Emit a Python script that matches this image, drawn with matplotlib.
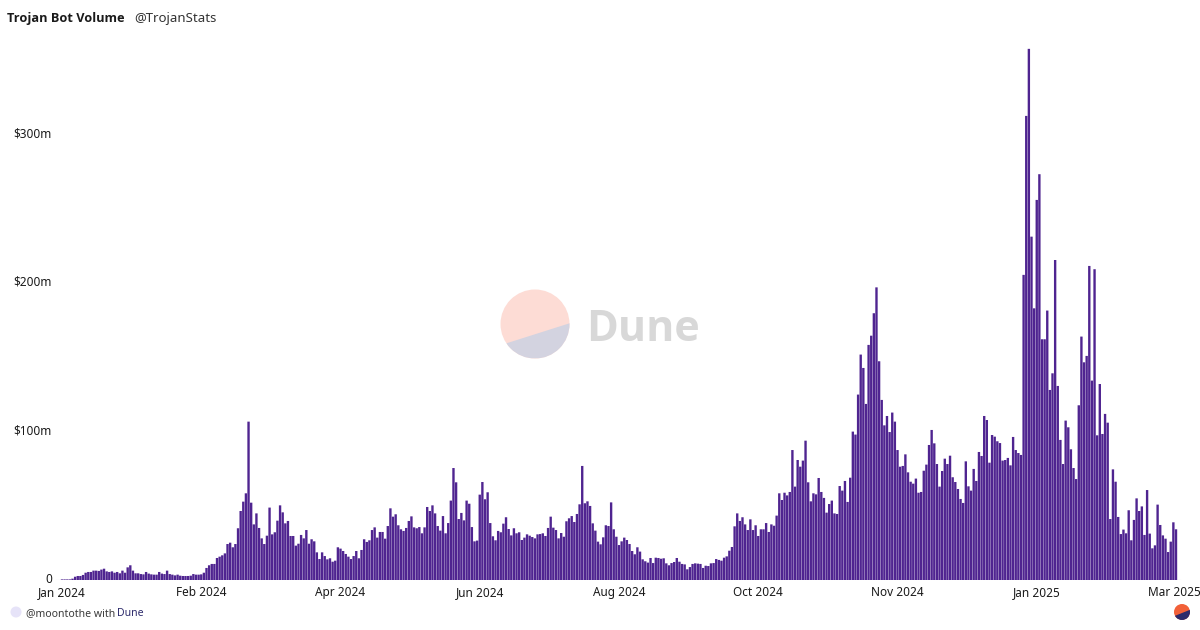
import numpy as np
import matplotlib
matplotlib.use("Agg")
import matplotlib.pyplot as plt
from matplotlib.patches import Circle, Polygon
from matplotlib.transforms import ScaledTranslation

plt.rcParams['font.family'] = ['Noto Sans', 'DejaVu Sans']

# Daily volume in $m, split by stretch of the year
vol_start = [
    0.4, 0.4, 0.4, 0.4, 0.9, 2.2, 2.7, 2.7, 3.4, 4.9,
    5.4, 5.4, 6.3, 6.3, 6.1, 7.0, 7.6, 5.8, 5.4, 5.8,
    4.9, 5.4, 4.5, 6.3, 4.9, 8.5, 9.9, 6.3, 4.5, 4.5,
    4.0, 3.8, 5.4, 4.3, 3.8, 3.6, 3.6, 5.4, 4.3, 4.0,
    6.3, 4.0, 3.6, 3.1, 3.6, 2.9, 2.7, 2.7, 2.7, 2.9,
    4.0, 3.6, 3.6, 3.8, 4.9, 8.1, 9.9, 10.8, 10.8, 14.8,
    15.7, 16.6, 17.9, 24.2, 25.1, 22.0, 24.2, 34.8, 46.4, 52.7,
    58.3, 106.5, 52.0, 37.4, 44.8, 35.0, 28.0, 24.2, 29.8, 48.7,
    30.7, 32.1, 39.9, 50.2, 45.5, 38.1, 39.7, 29.6, 29.6, 23.1,
    24.4, 30.3,
]
vol_spring = [
    28.0, 33.6, 24.4, 27.4, 26.0, 18.6, 14.1, 18.6, 16.1, 13.9,
    14.6, 12.3, 13.0, 22.0, 21.1, 19.5, 17.5, 15.7, 14.1, 16.1,
    19.5, 14.6, 20.2, 27.4, 25.6, 26.7, 33.6, 35.4, 28.5, 32.3,
    32.3, 27.8, 36.3, 48.2, 42.6, 44.2, 36.8, 34.1, 33.0, 35.0,
    39.7, 42.8, 35.4, 34.8, 35.6, 31.4, 35.4, 49.1, 46.4, 50.2,
    44.8, 36.3, 33.2, 43.0, 31.4, 38.3, 53.4, 75.3, 65.7, 41.0,
    45.1, 40.1, 53.4, 51.3, 35.6, 26.0, 26.5, 57.4, 65.9, 54.3,
    59.0, 38.3, 29.4, 26.7, 33.0, 32.1, 37.9, 42.2, 34.3, 30.0,
    34.8, 31.4, 32.1, 26.9, 28.5, 30.7, 29.8, 28.9, 28.0, 30.7,
]
vol_summer = [
    30.9, 31.4, 29.6, 35.0, 42.6, 35.2, 33.6, 28.0, 31.6, 29.1,
    39.5, 41.5, 43.0, 39.0, 44.4, 50.9, 76.7, 51.6, 52.9, 49.8,
    38.1, 33.2, 25.8, 24.0, 28.7, 36.8, 36.3, 52.2, 34.1, 29.1,
    23.5, 26.0, 28.5, 26.9, 24.2, 19.5, 17.3, 22.0, 19.1, 13.9,
    12.6, 11.7, 14.8, 11.4, 15.0, 14.8, 14.3, 14.6, 11.2, 9.9,
    11.4, 12.1, 14.8, 12.3, 10.8, 10.5, 7.2, 8.7, 10.8, 11.2,
    11.0, 10.8, 8.1, 9.6, 9.4, 11.2, 11.4, 14.1, 13.5, 13.0,
    15.0, 15.9, 19.7, 22.2, 36.1, 44.8, 39.7, 42.2, 37.4, 33.6,
    40.8, 33.6, 36.8, 29.6, 34.1, 34.1, 38.3, 32.3, 37.4, 36.5,
    43.3,
]
vol_autumn = [
    58.3, 53.8, 58.7, 56.9, 59.2, 87.4, 62.8, 80.7, 76.2, 80.3,
    93.7, 65.7, 52.9, 58.3, 57.6, 68.6, 59.2, 55.2, 45.3, 51.1,
    53.4, 44.8, 44.4, 63.2, 60.1, 66.6, 52.5, 68.8, 99.8, 97.8,
    124.7, 151.6, 142.6, 118.4, 158.1, 164.3, 179.4, 196.8, 147.1, 121.1,
    104.0, 110.3, 99.5,
]
vol_winter = [
    112.6, 106.5, 87.4, 76.2, 76.7, 84.5, 72.4, 66.1, 64.8, 68.2,
    58.7, 59.2, 73.5, 77.6, 90.8, 100.9, 91.9, 78.0, 62.8, 73.3,
    81.6, 78.0, 83.6, 69.1, 65.9, 61.2, 54.5, 51.8, 79.8, 63.0,
    60.1, 74.7, 66.6, 86.1, 83.4, 110.3, 107.6, 78.9, 97.5, 96.4,
    93.3, 92.1, 80.3, 80.7, 82.1, 77.1, 96.2, 87.4, 85.4, 84.1,
]
vol_2025 = [
    205.2, 312.1, 357.2, 230.9, 182.7, 255.6, 272.9, 161.9, 161.9, 181.2,
    127.8, 139.0, 215.2, 130.5, 94.2, 78.0, 107.2, 102.7, 87.9, 75.3,
    67.9, 117.5, 163.7, 146.4, 150.7, 211.2, 134.1, 209.0, 97.3, 131.8,
    98.2, 111.7, 105.8, 41.0, 74.4, 66.1, 42.4, 30.9, 33.9, 31.4,
    46.9, 26.7, 40.4, 54.9, 46.4, 49.5, 30.3, 60.5, 31.2, 21.3,
    23.3, 50.7, 37.0, 30.0, 27.8, 18.8, 25.8, 38.8, 34.1,
]
volume = np.array(vol_start + vol_spring + vol_summer + vol_autumn + vol_winter + vol_2025)

x_labels = ['Jan 2024', 'Feb 2024', 'Apr 2024', 'Jun 2024', 'Aug 2024',
            'Oct 2024', 'Nov 2024', 'Jan 2025', 'Mar 2025']
x_tick_step = 53
y_ticks = [0, 100, 200, 300]
y_labels = ['0', '$100m', '$200m', '$300m']

W, H = 1200, 630
fig = plt.figure(figsize=(W / 100, H / 100), dpi=100, facecolor='white')

# Main axes, placed in pixel terms: baseline at y=580, first bar at x=62
px_per_day = (1176 - 62) / 424
px_per_m = 1.487
left, bottom, top = 56, 580, 40
ax = fig.add_axes([left / W, (H - bottom) / H, (W - left) / W, (bottom - top) / H])
days = np.arange(len(volume))
ax.bar(days, volume, width=0.9, color='#4f2490', linewidth=0, snap=False)
ax.set_xlim((left - 62) / px_per_day, (W - 62) / px_per_day)
ax.set_ylim(0, (bottom - top) / px_per_m)
ax.set_xticks(np.arange(len(x_labels)) * x_tick_step, x_labels)
ax.set_yticks(y_ticks, y_labels)
ax.tick_params(length=0, labelsize=8.5, labelcolor='#1a1a1a')
ax.tick_params(axis='x', pad=4)
ax.tick_params(axis='y', pad=3)
for s in ax.spines.values():
    s.set_visible(False)
ax.axhline(0, xmin=0, xmax=(1180 - left) / (W - left), color='#d9cfe8', lw=0.8, zorder=0)

# Nudge the y labels up and keep the last x label inside the figure
for lab in ax.get_yticklabels():
    lab.set_transform(lab.get_transform() + ScaledTranslation(0, 1.7 / 100, fig.dpi_scale_trans))
last = ax.get_xticklabels()[-1]
last.set_transform(last.get_transform() + ScaledTranslation(-1.5 / 100, 0, fig.dpi_scale_trans))

# Overlay in pixel coordinates for title, footer and logos
ov = fig.add_axes([0, 0, 1, 1], zorder=5)
ov.set_xlim(0, W)
ov.set_ylim(H, 0)
ov.axis('off')

ov.text(7, 22, 'Trojan Bot Volume', fontsize=9.15, family='Open Sans', fontweight='bold',
        color='#1a1a1a', va='baseline')
ov.text(134.5, 22, '@TrojanStats', fontsize=9.5, color='#333333', va='baseline')


def chord_logo(cx, cy, r, p1, p2, upper, lower):
    # Disc in the upper colour with the part under the chord in the lower colour
    disc = Circle((cx, cy), r, color=upper, lw=0)
    ov.add_patch(disc)
    part = Polygon([p1, p2, (cx + r, cy + r), (cx - r, cy + r)], closed=True, color=lower, lw=0)
    ov.add_patch(part)
    part.set_clip_path(disc)


chord_logo(535, 324, 34.5, (498, 346), (572, 322.5), '#fddcd5', '#d3d3e0')
ov.text(586, 341, 'Dune', fontsize=31, family='Open Sans', fontweight='bold', color='#d8d8d8', va='baseline')

# Footer
ov.add_patch(Circle((16, 612), 5.5, color='#e6e3f8', lw=0))
ov.text(26, 616, '@moontothe with', fontsize=7.55, color='#3a3a3a', va='baseline')
ov.text(117, 616, 'Dune', fontsize=7.55, color='#2c2a6b', va='baseline')
chord_logo(1182, 612, 8, (1172, 617), (1192, 609), '#f26038', '#2c2a6b')

fig.savefig('out.png', dpi=100)
